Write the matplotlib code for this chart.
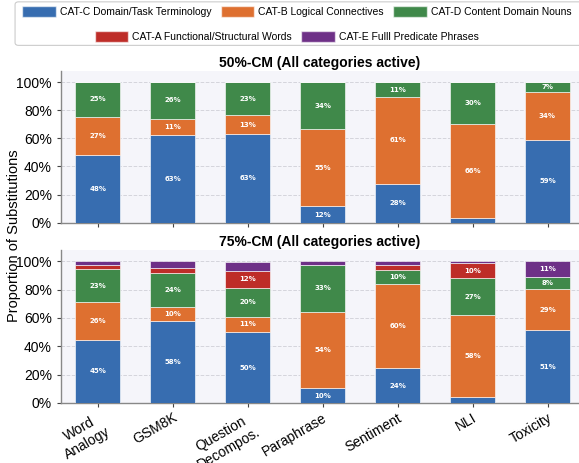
import numpy as np
import matplotlib
matplotlib.use("Agg")
import matplotlib.pyplot as plt
from matplotlib.patches import Patch, FancyBboxPatch

plt.rcParams['font.family'] = ['Liberation Sans', 'DejaVu Sans']

# 数据
tasks = ['Word\nAnalogy', 'GSM8K', 'Question\nDecompos.', 'Paraphrase', 'Sentiment', 'NLI', 'Toxicity']
cat_names = ['CAT-C Domain/Task Terminology', 'CAT-B Logical Connectives', 'CAT-D Content Domain Nouns',
             'CAT-A Functional/Structural Words', 'CAT-E Fulll Predicate Phrases']
cat_colors = ['#376DB0', '#DE7030', '#40894A', '#BE2D28', '#6E3087']

# 50%-CM, values in percent: C, B, D, A, E
cm50_C = [48.0, 62.6, 63.0, 11.6, 27.8, 3.6, 59.0]
cm50_B = [27.3, 11.4, 13.4, 54.7, 61.4, 66.4, 34.3]
cm50_D = [24.7, 26.0, 23.4, 33.7, 10.8, 30.0, 6.7]
cm50_A = [0, 0, 0, 0, 0, 0, 0]
cm50_E = [0, 0, 0, 0, 0, 0, 0]

# 75%-CM
cm75_C = [44.8, 57.8, 50.0, 10.3, 24.4, 4.0, 51.2]
cm75_B = [26.4, 10.2, 11.0, 54.1, 59.5, 57.8, 29.4]
cm75_D = [23.4, 23.8, 20.0, 33.0, 10.3, 26.6, 8.0]
cm75_A = [3.1, 3.3, 12.4, 0.3, 3.0, 10.2, 0.0]
cm75_E = [2.3, 4.9, 6.4, 2.3, 2.8, 1.4, 11.4]


def plot_panel(ax, series, title, show_xlabels):
    x = np.arange(len(tasks))
    bottom = np.zeros(len(tasks))
    for vals, color in zip(series, cat_colors):
        v = np.array(vals) / 100.0
        ax.bar(x, v, 0.6, bottom=bottom, color=color, edgecolor=(1, 1, 1, 0.6), linewidth=0.7, zorder=3)
        for xi, b, h in zip(x, bottom, v):
            if h * 100 >= 6.5:
                ax.text(xi, b + h / 2, "{:.0f}%".format(h * 100), ha='center', va='center',
                        color='white', fontsize=5, fontweight='bold', family='DejaVu Sans', zorder=4)
        bottom += v

    ax.set_facecolor('#F5F5FA')
    ax.set_ylim(0, 1.08)
    ax.set_xlim(-0.49, 6.42)
    ax.set_yticks([0, 0.2, 0.4, 0.6, 0.8, 1.0])
    ax.set_yticklabels(['0%', '20%', '40%', '60%', '80%', '100%'], fontsize=10)
    ax.grid(axis='y', linestyle='--', color='#d4d4dc', linewidth=0.7, zorder=0)
    ax.set_xticks(x)
    if show_xlabels:
        ax.set_xticklabels(tasks, fontsize=10, rotation=30, ha='right', rotation_mode='anchor', ma='center')
    else:
        ax.set_xticklabels([])
    for s in ['top', 'right']:
        ax.spines[s].set_visible(False)
    for s in ['left', 'bottom']:
        ax.spines[s].set_color('#888888')
        ax.spines[s].set_linewidth(1.0)
    ax.tick_params(colors='#444444', labelcolor='black', length=3)
    ax.tick_params(axis='x', pad=2.5)
    ax.set_title(title, fontsize=10, fontweight='bold', pad=3)


fig = plt.figure(figsize=(5.79, 4.63), dpi=100)
ax1 = fig.add_axes([0.1054, 0.519, 0.8946, 0.328])
ax2 = fig.add_axes([0.1054, 0.1296, 0.8946, 0.3305])

plot_panel(ax1, [cm50_C, cm50_B, cm50_D, cm50_A, cm50_E], "50%-CM (All categories active)", False)
plot_panel(ax2, [cm75_C, cm75_B, cm75_D, cm75_A, cm75_E], "75%-CM (All categories active)", True)

fig.text(0.025, 0.49, "Proportion of Substitutions", rotation=90, ha='center', va='center', fontsize=10.5)

# 图例: 两行, 第二行居中
handles = [Patch(facecolor=c, edgecolor=(1, 1, 1, 0.6)) for c in cat_colors]
leg_kw = dict(frameon=False, fontsize=7.5, handlelength=3.2, handleheight=1.25,
              handletextpad=0.4, columnspacing=0.9, borderpad=0.1, loc='center')
fig.legend(handles[:3], cat_names[:3], ncol=3, bbox_to_anchor=(0.513, 0.976), **leg_kw)
fig.legend(handles[3:], cat_names[3:], ncol=2, bbox_to_anchor=(0.495, 0.922), **leg_kw)
fig.patches.append(FancyBboxPatch((0.026, 0.902), 0.99, 0.094, boxstyle="round,pad=0,rounding_size=0.006",
                                  transform=fig.transFigure, facecolor='white', edgecolor='#cccccc',
                                  linewidth=0.8, zorder=-1))

plt.savefig("out.png", dpi=100)
